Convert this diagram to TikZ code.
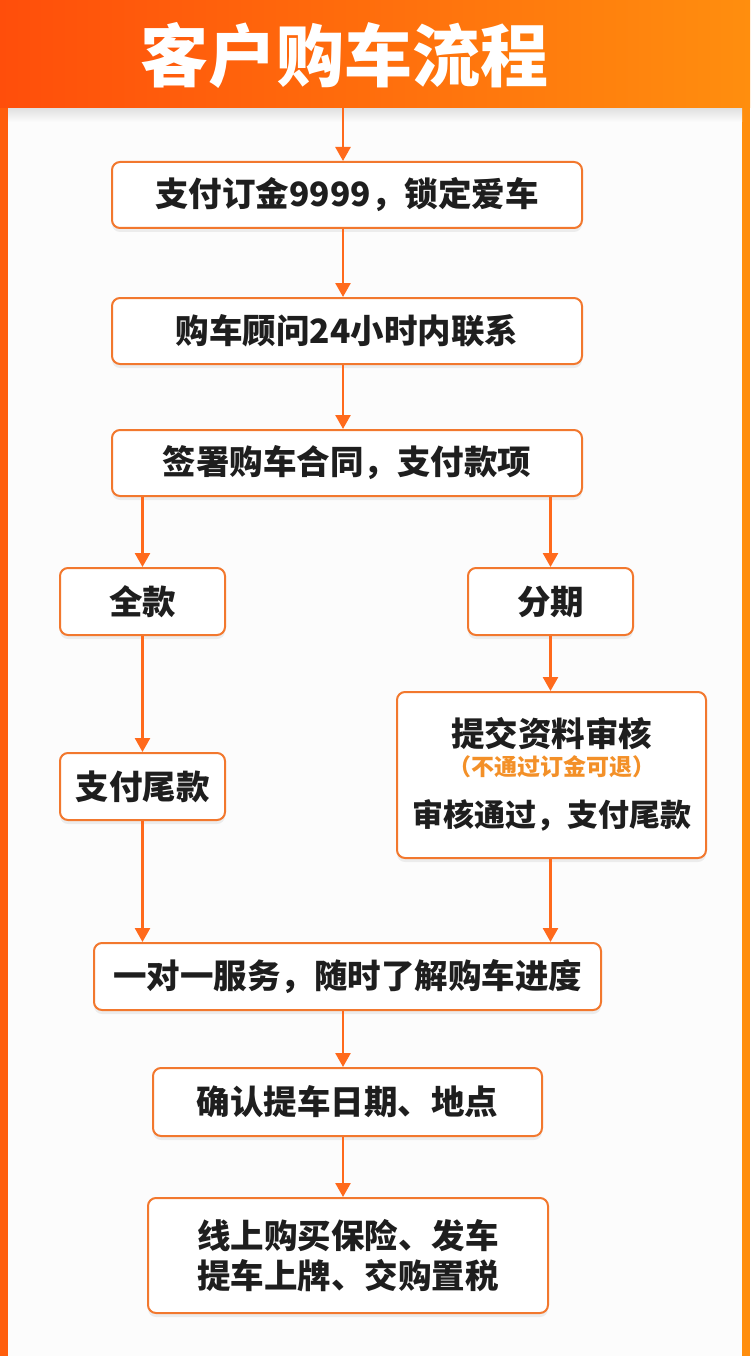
\documentclass[tikz,border=0pt]{standalone}
\usepackage{fontspec}
\newfontfamily\cjk{Noto Sans CJK SC}
\usetikzlibrary{arrows.meta,shadows}
\definecolor{headleft}{HTML}{FF4E0B}
\definecolor{headright}{HTML}{FF8E0E}
\definecolor{flow}{HTML}{FF6A1C}
\definecolor{rim}{HTML}{F2782E}
\definecolor{note}{HTML}{F39028}
\definecolor{ink}{HTML}{1E1E1E}
\definecolor{panel}{HTML}{FCFCFC}
\tikzset{
  stepbox/.style = {
    draw=rim, line width=2pt, rounded corners=8pt, fill=white,
    align=center, text=ink, inner sep=0pt,
    font=\cjk\bfseries\fontsize{33.5}{40}\selectfont,
    drop shadow={shadow xshift=0pt, shadow yshift=-4pt, opacity=0.12}
  },
  steptext/.style = {text=ink, inner sep=0pt, font=\cjk\bfseries\fontsize{33.5}{40}\selectfont},
  flowline/.style = {draw=flow, line width=2.6pt, -{Triangle[width=15pt,length=14pt]}}
}
\begin{document}
\begin{tikzpicture}[x=1pt,y=-1pt]
  \useasboundingbox (0,0) rectangle (750,1356);
  % frame and header
  \fill[panel] (0,0) rectangle (750,1356);
  \fill[headleft!75!headright] (0,100) rectangle (8,1356);
  \fill[headright] (742,100) rectangle (750,1356);
  \shade[top color=black!12, bottom color=panel] (8,108) rectangle (742,122);
  \shade[left color=headleft, right color=headright] (0,0) rectangle (750,108);
  \node[text=white, font=\cjk\bfseries\fontsize{68}{72}\selectfont] (title) at (344,55) {客户购车流程};
  \coordinate (top) at (343,108);
  % steps
  \node[stepbox, minimum width=470pt, minimum height=66pt] (pay) at (347,195) {支付订金9999，锁定爱车};
  \node[stepbox, minimum width=470pt, minimum height=66pt] (call) at (347,331) {购车顾问24小时内联系};
  \node[stepbox, minimum width=470pt, minimum height=66pt] (sign) at (347,463) {签署购车合同，支付款项};
  \node[stepbox, minimum width=165pt, minimum height=67pt] (full) at (142.5,601.5) {全款};
  \node[stepbox, minimum width=165pt, minimum height=67pt] (stage) at (550.5,601.5) {分期};
  \node[stepbox, minimum width=165pt, minimum height=67pt] (tail) at (142.5,786.5) {支付尾款};
  \node[stepbox, minimum width=309pt, minimum height=166pt] (audit) at (551.5,775) {};
  \node[steptext] (auditA) at ([yshift=41pt]audit.center) {提交资料审核};
  \node[steptext, text=note, font=\cjk\bfseries\fontsize{23}{26}\selectfont] (auditB) at ([yshift=8pt]audit.center) {（不通过订金可退）};
  \node[steptext, font=\cjk\bfseries\fontsize{31}{36}\selectfont] (auditC) at ([yshift=-40pt]audit.center) {审核通过，支付尾款};
  \node[stepbox, minimum width=507pt, minimum height=67pt] (serve) at (347.5,976.5) {一对一服务，随时了解购车进度};
  \node[stepbox, minimum width=389pt, minimum height=68pt] (date) at (347.5,1102) {确认提车日期、地点};
  \node[stepbox, minimum width=400pt, minimum height=115pt] (finish) at (348,1255.5) {线上购买保险、发车\\提车上牌、交购置税};
  % arrows
  \draw[flowline] (top) -- (top |- pay.north);
  \draw[flowline] (top |- pay.south) -- (top |- call.north);
  \draw[flowline] (top |- call.south) -- (top |- sign.north);
  \draw[flowline] (sign.south -| full.north) -- (full.north);
  \draw[flowline] (sign.south -| stage.north) -- (stage.north);
  \draw[flowline] (full.south) -- (tail.north);
  \draw[flowline] (stage.south) -- (stage.south |- audit.north);
  \draw[flowline] (tail.south) -- (tail.south |- serve.north);
  \draw[flowline] (stage.south |- audit.south) -- (stage.south |- serve.north);
  \draw[flowline] (top |- serve.south) -- (top |- date.north);
  \draw[flowline] (top |- date.south) -- (top |- finish.north);
\end{tikzpicture}
\end{document}
